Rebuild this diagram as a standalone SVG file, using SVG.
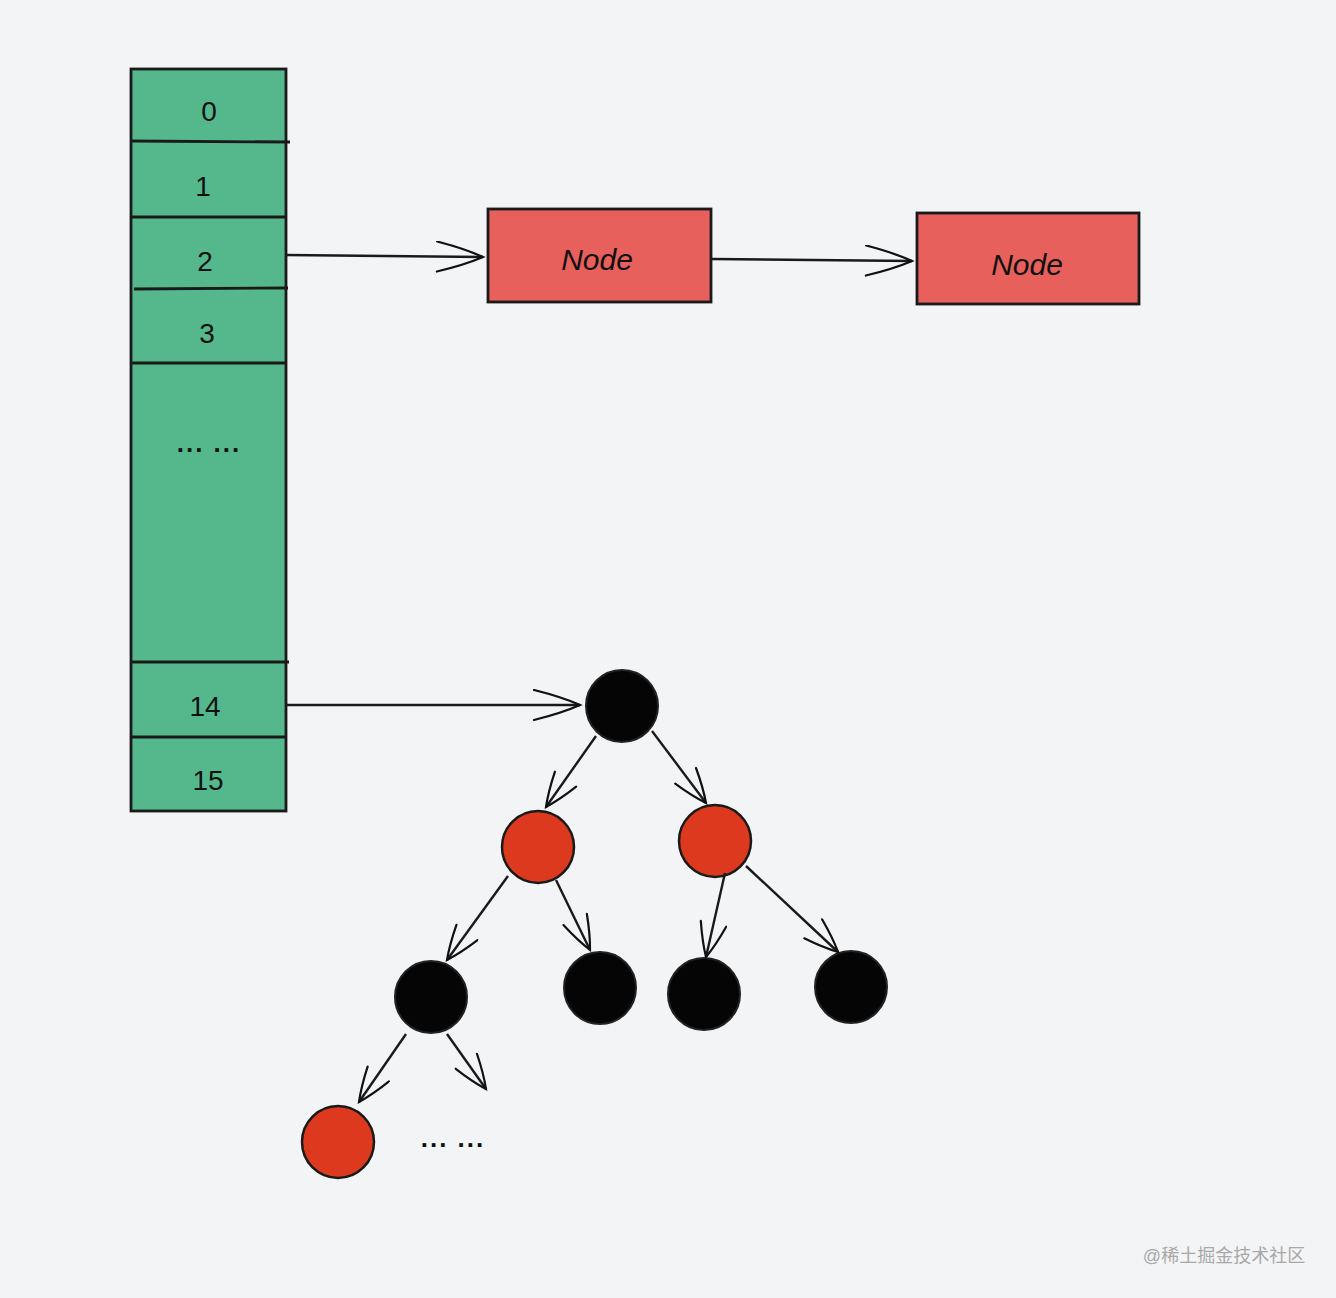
<svg xmlns="http://www.w3.org/2000/svg" width="1336" height="1298" viewBox="0 0 1336 1298">
<defs>
<marker id="big" markerUnits="userSpaceOnUse" markerWidth="60" markerHeight="40" refX="48" refY="16" orient="auto"><path d="M2,1 Q30,8 48,16 Q30,24 2,31" fill="none" stroke="#111" stroke-width="2.2" stroke-linecap="round"/></marker>
<marker id="sm" markerUnits="userSpaceOnUse" markerWidth="44" markerHeight="34" refX="36" refY="14" orient="auto"><path d="M2,1 Q22,7 36,14 Q22,21 2,27" fill="none" stroke="#111" stroke-width="2.2" stroke-linecap="round"/></marker>
<style>
.cell{fill:#55b88d;stroke:#1a1a1a;stroke-width:2.8}
.row{stroke:#1a1a1a;stroke-width:2.8}
.lbl{font-family:"Liberation Sans","DejaVu Sans",sans-serif;font-size:28px;fill:#111;text-anchor:middle;dominant-baseline:central}
.node{fill:#e8605c;stroke:#1a1a1a;stroke-width:2.8}
.nlbl{font-family:"Liberation Sans",sans-serif;font-style:italic;font-size:30px;fill:#111;text-anchor:middle;dominant-baseline:central}
.blk{fill:#050505;stroke:#222;stroke-width:2}
.red{fill:#dc391e;stroke:#1a1a1a;stroke-width:2.5}
.edge{stroke:#1a1a1a;stroke-width:2.4;fill:none}
.dots{font-family:"Liberation Sans",sans-serif;font-size:26px;font-weight:bold;fill:#111;text-anchor:middle;dominant-baseline:central;letter-spacing:2px}
</style>
</defs>
<rect width="1336" height="1298" fill="#f3f4f6"/>
<g id="array">
<rect class="cell" x="131" y="69" width="155" height="742"/>
<line class="row" x1="131" y1="141" x2="290" y2="142"/>
<line class="row" x1="131" y1="217" x2="287" y2="217"/>
<line class="row" x1="134" y1="289" x2="288" y2="288"/>
<line class="row" x1="131" y1="363" x2="286" y2="363"/>
<line class="row" x1="131" y1="662" x2="289" y2="662"/>
<line class="row" x1="131" y1="737" x2="286" y2="737"/>
<text class="lbl" x="209" y="111">0</text>
<text class="lbl" x="203" y="186">1</text>
<text class="lbl" x="205" y="261">2</text>
<text class="lbl" x="207" y="333">3</text>
<text class="dots" x="209" y="443">...  ...</text>
<text class="lbl" x="205" y="706">14</text>
<text class="lbl" x="208" y="780">15</text>
</g>
<g id="node1">
<rect class="node" x="488" y="209" width="223" height="93"/>
<text class="nlbl" x="597" y="259">Node</text>
</g>
<g id="node2">
<rect class="node" x="917" y="213" width="222" height="91"/>
<text class="nlbl" x="1027" y="264">Node</text>
</g>
<g id="tree-root"><circle class="blk" cx="622" cy="706" r="36"/></g>
<g id="tree-red-left"><circle class="red" cx="538" cy="847" r="36"/></g>
<g id="tree-red-right"><circle class="red" cx="715" cy="841" r="36"/></g>
<g id="tree-b1"><circle class="blk" cx="431" cy="997" r="36"/></g>
<g id="tree-b2"><circle class="blk" cx="600" cy="988" r="36"/></g>
<g id="tree-b3"><circle class="blk" cx="704" cy="994" r="36"/></g>
<g id="tree-b4"><circle class="blk" cx="851" cy="987" r="36"/></g>
<g id="tree-red-bottom"><circle class="red" cx="338" cy="1142" r="36"/></g>
<g id="more"><text class="dots" x="453" y="1138">...  ...</text></g>
<g id="connectors">
<path class="edge" d="M286,255 L483,257" marker-end="url(#big)"/>
<path class="edge" d="M712,259 L912,261" marker-end="url(#big)"/>
<path class="edge" d="M287,705 L580,705" marker-end="url(#big)"/>
<path class="edge" d="M596,736 L546,807" marker-end="url(#sm)"/>
<path class="edge" d="M652,731 L706,803" marker-end="url(#sm)"/>
<path class="edge" d="M508,876 L447,960" marker-end="url(#sm)"/>
<path class="edge" d="M556,880 L590,950" marker-end="url(#sm)"/>
<path class="edge" d="M725,873 L706,957" marker-end="url(#sm)"/>
<path class="edge" d="M746,866 L838,952" marker-end="url(#sm)"/>
<path class="edge" d="M406,1034 L359,1102" marker-end="url(#sm)"/>
<path class="edge" d="M447,1034 L486,1089" marker-end="url(#sm)"/>
</g>
<text x="1224" y="1256" font-family="Liberation Sans, Noto Sans CJK SC, sans-serif" font-size="18" fill="#a8a8a8" text-anchor="middle" dominant-baseline="central">@稀土掘金技术社区</text>
</svg>
